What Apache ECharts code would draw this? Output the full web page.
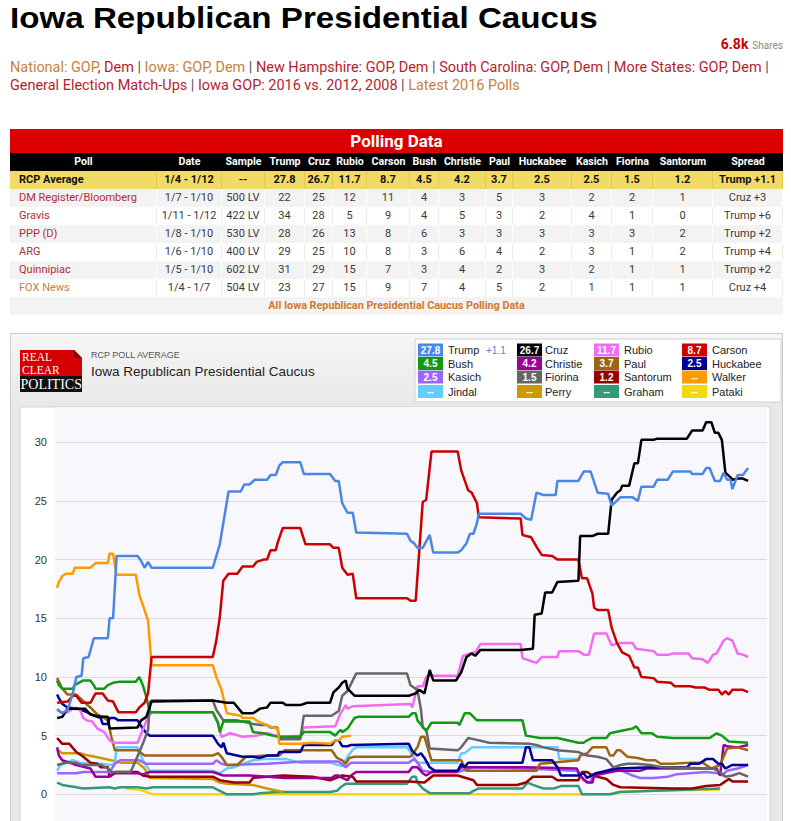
<!DOCTYPE html>
<html><head><meta charset="utf-8">
<script src="https://cdn.jsdelivr.net/npm/echarts@6/dist/echarts.min.js"></script>
<style>
body{margin:0;width:791px;height:821px;overflow:hidden;background:#fff;position:relative;font-family:Roboto,'Liberation Sans',Arial,sans-serif;}
#title{position:absolute;left:10px;top:0;font:bold 30px/36px 'Liberation Sans',Arial,sans-serif;color:#000;white-space:nowrap;transform:scaleX(1.105);transform-origin:0 0;}
#shares{position:absolute;right:8px;top:36px;line-height:16px;white-space:nowrap;}
#shares b{color:#c00;font-size:14px;}
#shares span{color:#888;font-size:10px;}
#links{position:absolute;left:10px;top:59px;width:781px;font-size:14.45px;line-height:18px;white-space:nowrap;color:#555;}
.o{color:#c8813a}.r{color:#b71c2c}
#tbl{position:absolute;left:10px;top:129px;width:773px;height:186px;}
.c{position:absolute;box-sizing:border-box;white-space:nowrap;overflow:hidden;text-align:center;}
#chartbox{position:absolute;left:10px;top:333px;width:773px;height:530px;box-sizing:border-box;border:1px solid #ccc;background:linear-gradient(#f6f6f6 0px,#e8e8e8 74px,#e8e8e8 100%);}
#chart{position:absolute;left:0;top:0;width:771px;height:528px;}
</style></head>
<body>
<div id="title">Iowa Republican Presidential Caucus</div>
<div id="shares"><b>6.8k</b> <span>Shares</span></div>
<div id="links"><span class="o">National: GOP</span><span class="r">, Dem</span> | <span class="o">Iowa: GOP, Dem</span> | <span class="r">New Hampshire: GOP, Dem</span> | <span class="r">South Carolina: GOP, Dem</span> | <span class="r">More States: GOP, Dem</span> |<br><span class="r">General Election Match-Ups</span> | <span class="r">Iowa GOP: 2016 vs. 2012, 2008</span> | <span class="o">Latest 2016 Polls</span></div>
<div id="tbl"></div>
<div id="chartbox"><div id="chart"></div></div>
<script>
// ---------------- table data ----------------
const tableHeaders = ['Poll','Date','Sample','Trump','Cruz','Rubio','Carson','Bush','Christie','Paul','Huckabee','Kasich','Fiorina','Santorum','Spread'];
const rcpRow = ['RCP Average','1/4 - 1/12','--','27.8','26.7','11.7','8.7','4.5','4.2','3.7','2.5','2.5','1.5','1.2','Trump +1.1'];
const pollNames = ['DM Register/Bloomberg','Gravis','PPP (D)','ARG','Quinnipiac','FOX News'];
const pollDates = ['1/7 - 1/10','1/11 - 1/12','1/8 - 1/10','1/6 - 1/10','1/5 - 1/10','1/4 - 1/7'];
const pollSamples = ['500 LV','422 LV','530 LV','400 LV','602 LV','504 LV'];
const pollValues = [
  [22,25,12,11,4,3,5,3,2,2,1],
  [34,28,5,9,4,5,3,2,4,1,0],
  [28,26,13,8,6,3,3,3,3,3,2],
  [29,25,10,8,3,6,4,2,3,1,2],
  [31,29,15,7,3,4,2,3,2,1,1],
  [23,27,15,9,7,4,5,2,1,1,1]
];
const pollSpreads = ['Cruz +3','Trump +6','Trump +2','Trump +4','Trump +2','Cruz +4'];

// ---------------- chart data (x = days since 2015-06-29) ----------------
const trump = [[0,7.2],[1.5,6.9],[3,7.2],[4.5,8.6],[5.5,10.0],[7,10.1],[7.5,11.6],[9,11.7],[10.5,13.3],[14.5,13.3],[15,15.0],[16,15.0],[17,20.3],[23,20.3],[24,19.9],[25,19.3],[26,19.8],[27,19.3],[44.5,19.3],[46.5,21.3],[49,25.8],[52.5,25.8],[53.5,26.4],[55,26.4],[56.5,26.8],[60,26.8],[61,27.2],[62.5,27.2],[63.5,28.0],[64.5,28.3],[69.5,28.3],[70.5,27.3],[78,27.3],[79.5,26.7],[80.5,26.7],[81.5,24.8],[83,24.0],[84.5,24.0],[85.5,22.3],[100,22.2],[101,21.6],[102,21.4],[103,21.0],[104.5,21.0],[106.5,22.1],[107.5,20.6],[114.5,20.6],[115.5,20.8],[117,21.4],[118,22.2],[119,22.2],[120,23.1],[120.5,23.9],[132.5,23.9],[134,23.5],[135.5,23.4],[137,25.7],[139,25.5],[142.5,25.5],[143,26.7],[149,26.7],[150.5,27.5],[152.5,27.5],[154.5,25.7],[157.5,25.6],[158.5,24.6],[161,25.3],[164.5,25.3],[166,25.0],[167,26.2],[170.5,26.2],[171.5,26.8],[174.5,26.8],[176,27.5],[181,27.5],[181.5,27.3],[184.5,27.3],[185.5,27.8],[186.5,27.8],[188,26.7],[189.5,26.7],[190.5,27.4],[191.5,26.8],[192.5,26.8],[193,26.0],[194.5,27.2],[196,27.2],[197.5,27.8]];
const cruz = [[0,6.5],[1.5,6.6],[3,7.3],[8,7.3],[9.5,6.8],[12.5,6.6],[14.5,6.6],[15,5.6],[23,5.7],[24,6.3],[25.5,6.6],[27,7.9],[44.5,8.0],[48.5,7.8],[50.5,7.8],[53,6.9],[56,6.9],[58,7.3],[60,7.4],[61,7.8],[64.5,7.8],[65.5,7.6],[69.5,7.6],[71.5,7.8],[78,7.8],[79,8.7],[80.5,9.1],[81.5,9.5],[82.5,9.7],[83,9.0],[85,8.4],[100.5,8.4],[102.5,8.6],[103.5,8.9],[105,8.6],[106.5,10.6],[107.5,9.7],[114,9.7],[115.5,10.4],[117,11.7],[118.5,12.0],[119.5,11.8],[121,12.3],[132.5,12.3],[136,12.4],[136.5,15.3],[138.5,15.4],[139.5,17.2],[141.5,17.2],[143,18.1],[149,18.2],[149.5,22.0],[153,22.0],[154.5,22.2],[157.5,22.2],[158.5,25.1],[160,25.7],[161,25.9],[161.5,26.3],[163.5,26.3],[165,28.2],[166,28.2],[167,30.2],[170.5,30.2],[171.5,30.3],[180,30.3],[181.5,31.0],[184.5,31.0],[185.5,31.7],[187,31.7],[188,30.8],[189,30.8],[190,30.2],[191,27.4],[192.5,27.0],[193,26.8],[194.5,26.9],[196,26.9],[197.5,26.7]];
const rubio = [[0,7.3],[1,7.0],[3,7.0],[4.5,7.3],[6.5,7.2],[7.5,6.5],[8.5,6.3],[10,6.2],[11.5,5.6],[13.5,5.3],[15,4.6],[16,4.4],[23,4.4],[24.5,5.5],[26,6.6],[27,7.0],[44.5,7.0],[46,6.0],[47,4.9],[49.5,5.2],[53,4.9],[57,5.0],[60,5.2],[63.5,4.9],[69.5,5.0],[70.5,5.7],[79.5,5.8],[81,6.9],[82.5,7.6],[83,7.3],[84.5,7.5],[101,7.7],[101.5,7.4],[103,9.2],[104.5,9.2],[105.5,10.0],[106.5,10.1],[114.5,10.1],[116,11.8],[118,12.0],[119.5,12.1],[121,12.8],[132.5,12.8],[133,11.6],[135,11.4],[137,11.2],[138.5,11.7],[143,11.7],[143.5,12.2],[149,12.2],[150.5,11.9],[152,11.9],[153.5,13.7],[157,13.7],[158.5,12.7],[161,12.9],[164.5,12.9],[165.5,12.4],[170.5,12.2],[171.5,11.9],[175,11.9],[176,12.0],[180.5,12.0],[181.5,11.6],[184.5,11.5],[186,11.2],[187.5,11.9],[188.5,12.0],[190.5,13.1],[191.5,13.3],[193,13.1],[194.5,12.0],[196,11.9],[197.5,11.7]];
const carson = [[0,7.8],[3,7.9],[4.5,8.4],[5.5,8.4],[7,7.8],[9.5,7.8],[11,8.6],[13,8.6],[14.5,8.0],[16,7.9],[17.5,7.0],[22.5,7.0],[23.5,7.4],[25,7.8],[26,8.6],[27,11.7],[44.5,11.7],[45.5,13.1],[46.5,15.1],[47.5,18.2],[49,18.8],[51.5,18.8],[53,19.4],[56,19.4],[57,19.8],[59,20.0],[60,20.0],[61,20.8],[62.5,20.8],[63,21.4],[64.5,22.7],[69.5,22.7],[71,21.3],[78,21.3],[79,21.0],[80.5,21.0],[81.5,19.3],[83,18.7],[84.5,18.8],[85.5,16.7],[100,16.7],[101,16.5],[102.5,16.5],[104.5,24.9],[105.5,25.1],[107,29.2],[114.5,29.2],[115.5,27.6],[117.5,25.9],[118.5,25.7],[120,24.8],[120.5,23.6],[132.5,23.5],[133,22.1],[135.5,21.9],[137,21.1],[138.5,20.4],[141.5,20.3],[143,20.0],[149,20.0],[150,18.4],[151.5,18.4],[153,17.1],[153.5,15.9],[154.5,15.7],[157.5,15.7],[158.5,14.2],[160,12.9],[161.5,12.1],[163.5,11.8],[165,10.8],[166,10.8],[167,10.0],[170.5,9.9],[171.5,9.6],[175.5,9.5],[176.5,9.2],[181,9.2],[182.5,9.1],[185,9.1],[186.5,8.9],[189,8.9],[190,8.5],[191,8.8],[192,8.5],[193,8.9],[196,8.9],[197.5,8.7]];
const bush = [[0,9.7],[0.5,9.3],[1.5,9.0],[4.5,9.0],[5,9.3],[7.5,9.7],[9.5,9.7],[10.5,9.3],[11,9.0],[13.5,9.0],[14.5,9.3],[16,9.5],[18,9.6],[22.5,9.6],[23.5,10.0],[24.5,9.3],[25.5,8.3],[26.5,7.0],[44.5,7.0],[46,6.1],[46.5,5.3],[47.5,6.2],[55,6.2],[56,5.3],[59,5.2],[61.5,5.0],[63.5,4.9],[69.5,4.9],[70.5,5.3],[78,5.3],[79.5,5.0],[81,5.5],[81.5,5.3],[83,5.6],[85,6.5],[86,6.6],[100.5,6.6],[101.5,6.9],[102.5,6.9],[103,6.3],[105.5,5.4],[107,6.1],[114.5,6.1],[115,5.9],[116.5,6.9],[118,6.9],[120,6.3],[133,6.3],[134,5.0],[138,4.8],[143,4.8],[149,4.4],[150.5,4.4],[151.5,4.6],[153,4.8],[157,4.8],[158,5.2],[161,5.4],[164.5,5.6],[165.5,5.8],[167,5.2],[170,5.2],[171.5,4.9],[176,4.8],[186.5,4.8],[188.5,5.2],[190,5.0],[192,4.5],[197.5,4.4]];
const christie = [[0,4.0],[0.5,3.3],[1.5,2.9],[5.5,2.5],[9.5,2.2],[11,1.5],[15,1.5],[16,1.8],[23,1.8],[24.5,1.7],[26.5,1.9],[44.5,1.9],[47.5,1.6],[55,1.6],[65,1.4],[78.5,1.4],[79.5,1.6],[80.5,1.6],[81.5,1.4],[83,1.2],[84,1.6],[85.5,1.9],[100.5,1.9],[101.5,2.3],[103,2.3],[104.5,1.8],[105.5,1.6],[107,1.9],[114,1.9],[115.5,2.3],[134,2.3],[148.5,2.2],[149.5,1.6],[151.5,1.0],[153,1.0],[153.5,1.6],[160,2.0],[166.5,2.0],[168.5,2.2],[188.5,2.2],[189.5,1.6],[190.5,4.2],[191.5,4.1],[194.5,4.0],[197.5,4.2]];
const paul = [[0,9.9],[1.5,9.0],[3,8.5],[5.5,8.5],[8,7.8],[9.5,7.4],[11.5,6.8],[13,6.6],[14.5,6.3],[15.5,4.9],[16.5,3.75],[23,3.75],[25,3.3],[44.5,3.3],[46,3.5],[47,3.2],[48.5,2.5],[51.5,2.5],[54,3.2],[60,3.3],[63.5,3.3],[65,3.75],[78.5,3.75],[80,3.1],[81.5,2.9],[82.5,2.6],[83.5,3.1],[85,3.2],[101,3.2],[103,4.0],[104,4.9],[105,4.9],[106,3.9],[107,2.9],[115.5,2.9],[117,2.0],[137,2.0],[138,2.6],[149,2.9],[149.5,3.3],[151.5,3.5],[153,4.0],[157,4.0],[158,3.3],[159,3.3],[160,3.75],[161,3.75],[163,3.2],[166,3.1],[168.5,2.9],[171,2.9],[172.5,2.6],[176,2.6],[181,2.7],[184.5,2.7],[187,2.2],[189.5,2.5],[190.5,3.2],[191.5,3.9],[194.5,4.0],[197.5,3.75]];
const huckabee = [[0,8.5],[0.5,8.2],[1.5,7.7],[3,7.4],[6,7.3],[8.5,7.0],[10.5,6.7],[12.5,6.5],[13,6.0],[14.5,6.0],[15,6.5],[16.5,6.5],[17.5,6.3],[23,6.3],[24.5,5.6],[25.5,5.2],[26.5,5.0],[44.5,5.0],[46,4.3],[47,4.0],[47.5,4.4],[48.5,3.5],[53,3.2],[56,3.2],[58,3.1],[60,3.3],[63,3.3],[63.5,3.6],[69.5,3.6],[70.5,4.2],[78.5,4.2],[79.5,4.6],[80.5,4.6],[81.5,4.1],[83,4.1],[84,4.2],[100.5,4.3],[101.5,3.7],[103,3.3],[104,3.5],[105,3.1],[106.5,2.3],[108,2.0],[114.5,2.0],[115.5,2.6],[116.5,2.3],[117.5,2.7],[133,2.7],[134,4.0],[135,4.0],[136,2.9],[141.5,2.9],[143,2.3],[144,1.6],[149,1.6],[150.5,1.8],[151.5,1.4],[154,1.8],[160,2.2],[170.5,2.3],[180,2.3],[181,2.6],[183.5,2.6],[185.5,3.0],[187.5,3.0],[189,2.6],[190,2.6],[191,2.2],[193,2.5],[197.5,2.5]];
const kasich = [[0,1.8],[5.5,1.8],[7.5,1.9],[15,1.9],[16.5,2.6],[18,2.9],[23.5,2.9],[25.5,2.6],[44.5,2.6],[45.5,2.9],[47,2.6],[48.5,2.5],[60,2.6],[70.5,2.8],[80.5,2.8],[82.5,2.3],[84,2.7],[100.5,2.7],[102,3.0],[103,2.7],[104.5,2.0],[107,1.9],[114.5,1.9],[119,2.3],[133,2.2],[148.5,2.0],[150.5,1.2],[152.5,1.0],[153,1.6],[159,2.2],[161.5,2.0],[164.5,1.6],[166.5,1.4],[170.5,1.4],[174.5,1.5],[177,1.7],[185.5,1.9],[189,1.8],[190,1.6],[191.5,2.0],[194.5,2.2],[197.5,2.5]];
const fiorina = [[0,2.5],[2.5,2.7],[5,2.7],[7,2.5],[12.5,2.5],[14.5,2.2],[15.5,1.9],[21,1.9],[22.5,2.9],[24.5,4.3],[26,5.5],[26.5,7.8],[27,8.0],[44.5,8.0],[45.5,7.2],[47.5,6.3],[51.5,6.3],[53,6.2],[56,6.0],[58,5.9],[60,5.9],[61,5.7],[63,5.7],[63.5,4.7],[69.5,4.7],[70.5,6.7],[78.5,6.7],[79.5,6.9],[80.5,7.1],[81.5,8.4],[83,8.8],[85.5,10.3],[100,10.3],[101,9.3],[103,8.9],[104,7.2],[104.5,5.7],[105.5,5.5],[106.5,3.9],[114.5,3.75],[115.5,4.0],[117.5,4.8],[119,4.7],[123.5,4.4],[135,4.3],[137,4.2],[139,4.0],[143,3.75],[149,3.6],[151.5,3.3],[154.5,3.2],[157,3.0],[159,2.3],[161,2.5],[163,2.6],[165.5,2.6],[169.5,2.5],[173,2.3],[187.5,2.2],[189.5,1.9],[191,1.5],[193,1.6],[195,1.8],[197.5,1.5]];
const santorum = [[0,4.8],[1.5,4.3],[3.5,4.3],[5.5,3.6],[7.5,3.2],[9.5,2.7],[11.5,2.6],[12.5,2.3],[14.5,2.3],[15,1.5],[17,1.9],[23,1.9],[24.5,1.6],[26.5,1.5],[44.5,1.5],[46.5,1.2],[50.5,1.0],[55,1.0],[56,1.4],[60,1.5],[64.5,1.6],[73,1.5],[78,1.2],[81.5,1.6],[84.5,1.5],[85.5,1.1],[100.5,1.1],[105,1.0],[107.5,1.6],[114.5,1.6],[119,1.2],[120,0.8],[131.5,0.8],[134,1.0],[136,1.5],[141.5,1.5],[143,1.2],[149,1.2],[150,1.9],[151.5,1.9],[153,1.6],[157,1.3],[159,0.8],[161,0.6],[176,0.5],[181.5,0.5],[185.5,0.7],[189.5,0.8],[191,1.1],[192,1.3],[193,1.1],[197.5,1.1]];
const walker = [[0,17.6],[0.5,18.1],[1.5,18.6],[2.5,18.8],[4.5,18.8],[5,19.3],[9.5,19.3],[11,19.7],[14.5,19.7],[15,20.5],[16,20.5],[17,18.7],[22.5,18.7],[23.5,17.0],[25,15.7],[26,14.8],[27,11.0],[44.5,11.0],[45.5,10.0],[47,8.9],[48.5,6.9],[52.5,6.7],[53,6.5],[56,6.5],[57.5,6.2],[60,5.9],[61.5,5.7],[63,5.6],[63.5,4.3],[69.5,4.3],[73,4.4],[78,4.3],[79.5,4.6],[80.5,4.6],[81.5,4.9],[84,5.0]];
const jindal = [[0,2.0],[1,2.5],[4.5,2.9],[6.5,2.7],[12.5,2.6],[15,2.5],[16.5,2.6],[17,4.0],[23,4.0],[24.5,2.9],[26.5,2.0],[44.5,2.0],[46.5,1.8],[48.5,2.2],[50.5,2.3],[56,2.9],[59,3.0],[65.5,3.0],[69.5,2.7],[78,2.7],[81.5,2.4],[83,3.2],[84.5,3.8],[85.5,4.0],[100,4.0],[101.5,3.4],[103,2.7],[107,2.7],[114.5,2.7],[115.5,3.5],[116.5,3.5],[118.5,4.0],[143,4.0],[143.5,3.0],[149.5,3.0]];
const perry = [[0,3.8],[1.5,3.5],[6.5,3.5],[9,3.3],[12.5,3.1],[15.5,2.9],[18,2.7],[23,2.7],[25,2.2],[26.5,1.4],[44.5,1.3],[46.5,1.0],[48.5,0.9],[56,0.8],[60,0.5],[63,0.3],[64.5,0.2]];
const graham = [[0,1.0],[1.5,0.8],[5.5,0.6],[7.5,0.5],[15,0.6],[16.5,0.5],[18,0.6],[23,0.6],[25.5,0.5],[27.5,0.6],[44.5,0.6],[46.5,0.3],[48.5,0.0],[56,0.0],[58,0.1],[63,0.2],[78,0.2],[80,0.3],[81,0.6],[82.5,0.9],[100,0.9],[101.5,1.5],[102.5,1.5],[103,1.0],[104.5,0.5],[106.5,0.1],[118,0.1],[119,0.3],[120.5,0.5],[133,0.5],[134.5,1.0],[136,0.8],[139,0.5],[142,0.5],[144,0.7],[149,0.7],[150,0.0],[158,0.0],[161,0.2],[189.5,0.5]];
const pataki = [[19.5,0.5],[23,0.4],[24.5,0.3],[26.5,0.1],[27.5,0.0],[158.5,0.0],[160,0.2],[169.5,0.3],[189.5,0.4]];

// legend data
const legendNames = ['Trump','Cruz','Rubio','Carson','Bush','Christie','Paul','Huckabee','Kasich','Fiorina','Santorum','Walker','Jindal','Perry','Graham','Pataki'];
const legendValues = ['27.8','26.7','11.7','8.7','4.5','4.2','3.7','2.5','2.5','1.5','1.2','--','--','--','--','--'];
const leaderSpread = '+1.1';
const yTicks = [0,5,10,15,20,25,30];

// ---------------- styles ----------------
const colorMap = {Trump:'#4a86e8',Cruz:'#000000',Rubio:'#f26cf2',Carson:'#cc0000',Bush:'#119911',Christie:'#990099',Paul:'#996611',Huckabee:'#000099',Kasich:'#9966ff',Fiorina:'#666666',Santorum:'#990000',Walker:'#ff9900',Jindal:'#66ccff',Perry:'#cc9900',Graham:'#339977',Pataki:'#f2d90f'};
const seriesMap = {Trump:trump,Cruz:cruz,Rubio:rubio,Carson:carson,Bush:bush,Christie:christie,Paul:paul,Huckabee:huckabee,Kasich:kasich,Fiorina:fiorina,Santorum:santorum,Walker:walker,Jindal:jindal,Perry:perry,Graham:graham,Pataki:pataki};
const drawOrder = ['Pataki','Graham','Perry','Jindal','Santorum','Kasich','Christie','Paul','Huckabee','Rubio','Fiorina','Bush','Walker','Carson','Cruz','Trump'];

// ---------------- build table ----------------
(function(){
  const tbl = document.getElementById('tbl');
  const widths = [147,65,43,40,28,34,43,29,47,27,59,40,41,60,70];
  const lefts = []; let acc = 0; widths.forEach(w=>{lefts.push(acc); acc+=w;});
  function cell(x,y,w,h,text,css){
    const d=document.createElement('div'); d.className='c';
    d.style.cssText=`left:${x}px;top:${y}px;width:${w}px;height:${h}px;line-height:${h}px;`+css;
    d.textContent=text; tbl.appendChild(d); return d;
  }
  cell(0,0,773,24,'Polling Data','background:#dd0000;color:#fff;font-weight:bold;font-size:17px;');
  cell(0,24,773,18,'','background:#000;');
  tableHeaders.forEach((h,i)=>cell(lefts[i],24,widths[i],18,h,'color:#fff;font-weight:bold;font-size:10.6px;'));
  cell(0,42,773,18,'','background:#f1da66;');
  rcpRow.forEach((v,i)=>cell(lefts[i],42,widths[i],18,v,'color:#111;font-weight:bold;font-size:11px;border-right:1px solid #e4c94e;'+(i===0?'text-align:left;padding-left:9px;':'')));
  pollNames.forEach((p,r)=>{
    const y = 60 + r*18;
    const bg = r%2===0 ? '#f3f3f3' : '#ffffff';
    const sep = r%2===0 ? '#ffffff' : '#ececec';
    const vals = [p, pollDates[r], pollSamples[r]].concat(pollValues[r].map(String)).concat([pollSpreads[r]]);
    vals.forEach((v,i)=>{
      let css = `background:${bg};font-size:11px;color:#3a3a3a;border-right:1px solid ${sep};`;
      if(i===0){ css += 'text-align:left;padding-left:9px;color:'+(p==='FOX News'?'#c8813a':'#b3293a')+';'; }
      cell(lefts[i],y,widths[i],18,v,css);
    });
  });
  cell(0,168,773,18,'All Iowa Republican Presidential Caucus Polling Data','background:#f3f3f3;color:#d07b2a;font-weight:bold;font-size:10.8px;');
})();

// ---------------- chart ----------------
const chart = echarts.init(document.getElementById('chart'), null, {renderer:'svg'});
const FONT = "'Liberation Sans', Arial, sans-serif";
const graphics = [];
// white inner panel
graphics.push({type:'rect', shape:{x:9,y:73,width:750,height:470}, style:{fill:'#ffffff', stroke:'#cfcfcf', lineWidth:1}, z:-10});
// logo
graphics.push({type:'rect', shape:{x:9,y:16,width:62,height:26}, style:{fill:'#d40000'}});
graphics.push({type:'polygon', shape:{points:[[63,16],[71,16],[71,24]]}, style:{fill:'#f2f2f2'}});
graphics.push({type:'polygon', shape:{points:[[63,16],[71,24],[63,24]]}, style:{fill:'#8e0000'}});
graphics.push({type:'rect', shape:{x:9,y:42,width:62,height:16}, style:{fill:'#111111'}});
graphics.push({type:'text', x:11, y:17, style:{text:'REAL\nCLEAR', fill:'#fff', font:"11.5px 'Liberation Serif', serif", lineHeight:12.5, verticalAlign:'top'}});
graphics.push({type:'text', x:9.5, y:50.5, style:{text:'POLITICS', fill:'#fff', font:"14px 'Liberation Serif', serif", verticalAlign:'middle'}});
graphics.push({type:'text', x:80, y:21, style:{text:'RCP POLL AVERAGE', fill:'#555', font:'9px '+FONT, verticalAlign:'middle'}});
graphics.push({type:'text', x:80, y:37.5, style:{text:'Iowa Republican Presidential Caucus', fill:'#222', font:'13.5px '+FONT, verticalAlign:'middle'}});
// legend box
graphics.push({type:'rect', shape:{x:404,y:5,width:366,height:63}, style:{fill:'#ffffff', stroke:'#cfcfcf', lineWidth:1}});
const colBox = [407,506,583,671], colLab = [437,534,613,701], rowY = [16,29.5,43,57.5];
legendNames.forEach((n,i)=>{
  const c = i%4, r = Math.floor(i/4);
  graphics.push({type:'rect', shape:{x:colBox[c], y:rowY[r]-6.5, width:25, height:13}, style:{fill:colorMap[n]}});
  graphics.push({type:'text', x:colBox[c]+12.5, y:rowY[r], style:{text:legendValues[i], fill:'#fff', font:'bold 10px '+FONT, align:'center', verticalAlign:'middle'}});
  graphics.push({type:'text', x:colLab[c], y:rowY[r], style:{text:n, fill:'#222', font:'11px '+FONT, verticalAlign:'middle'}});
});
graphics.push({type:'text', x:475, y:rowY[0], style:{text:leaderSpread, fill:'#4a86e8', font:'10px '+FONT, verticalAlign:'middle'}});

const option = {
  animation:false,
  backgroundColor:'transparent',
  graphic:{elements:graphics},
  grid:{left:44, right:15, top:73, bottom:9, show:true, backgroundColor:'#f8f8fc', borderWidth:0},
  xAxis:{type:'value', min:-0.6, max:202.9, show:false},
  yAxis:{type:'value', min:-5, max:33, interval:5,
    axisLine:{show:false}, axisTick:{show:false},
    axisLabel:{color:'#333', fontSize:11, fontFamily:FONT, margin:8, showMaxLabel:false, showMinLabel:false,
      formatter:v=> yTicks.indexOf(v)>=0 ? String(v) : ''},
    splitLine:{show:true, showMaxLine:false, lineStyle:{color:'#dcdcdc', width:1}}},
  series: drawOrder.map(n=>({
    name:n, type:'line', data:seriesMap[n], showSymbol:false, symbol:'none',
    lineStyle:{color:colorMap[n], width:2.5}, itemStyle:{color:colorMap[n]},
    emphasis:{disabled:true}, silent:true
  }))
};
chart.setOption(option);
</script>
</body></html>
